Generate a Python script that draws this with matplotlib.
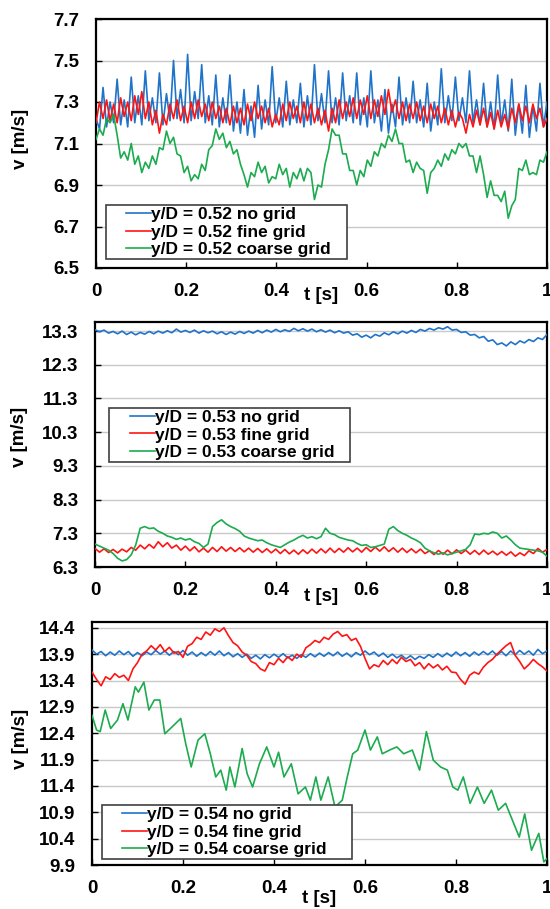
import numpy as np
import matplotlib
matplotlib.use("Agg")
import matplotlib.pyplot as plt
from matplotlib.lines import Line2D
from matplotlib.legend_handler import HandlerLine2D

plt.rcParams['font.family'] = ['Liberation Sans', 'DejaVu Sans']
plt.rcParams['font.weight'] = 'bold'
plt.rcParams['font.size'] = 13

# ---------------- data ----------------
x_ticks = [0, 0.2, 0.4, 0.6, 0.8, 1]
x_tick_labels = ["0", "0.2", "0.4", "0.6", "0.8", "1"]

# Panel 1 (y/D = 0.52)
p1_yticks = [6.5, 6.7, 6.9, 7.1, 7.3, 7.5, 7.7]
p1_labels = ["y/D = 0.52 no grid", "y/D = 0.52 fine grid", "y/D = 0.52 coarse grid"]
v1_nogrid = [7.22, 7.17,
    7.37, 7.18, 7.30, 7.20,  7.41, 7.19, 7.31, 7.18,  7.42, 7.20, 7.33, 7.19,
    7.45, 7.21, 7.32, 7.20,  7.44, 7.19, 7.34, 7.21,  7.50, 7.22, 7.36, 7.20,
    7.53, 7.21, 7.35, 7.22,  7.48, 7.20, 7.33, 7.19,  7.43, 7.18, 7.32, 7.20,
    7.43, 7.16, 7.30, 7.15,  7.36, 7.14, 7.28, 7.13,  7.38, 7.17, 7.31, 7.19,
    7.47, 7.20, 7.32, 7.18,  7.40, 7.19, 7.31, 7.20,  7.39, 7.18, 7.33, 7.19,
    7.48, 7.21, 7.34, 7.20,  7.45, 7.20, 7.32, 7.19,  7.44, 7.21, 7.33, 7.20,
    7.44, 7.19, 7.32, 7.18,  7.45, 7.20, 7.31, 7.16,  7.36, 7.15, 7.29, 7.18,
    7.42, 7.19, 7.32, 7.20,  7.40, 7.20, 7.31, 7.18,  7.39, 7.16, 7.30, 7.19,
    7.46, 7.20, 7.33, 7.21,  7.42, 7.21, 7.32, 7.20,  7.45, 7.20, 7.31, 7.19,
    7.39, 7.18, 7.30, 7.17,  7.43, 7.19, 7.31, 7.16,  7.41, 7.14, 7.29, 7.15,
    7.38, 7.13, 7.28, 7.16,  7.39, 7.18, 7.30]
v1_fine = [7.20, 7.30, 7.22, 7.31, 7.21, 7.29, 7.20, 7.32,
    7.23, 7.30, 7.21, 7.33, 7.24, 7.35, 7.22, 7.30,
    7.19, 7.26, 7.15, 7.24, 7.19, 7.29, 7.22, 7.31,
    7.21, 7.28, 7.20, 7.30, 7.22, 7.31, 7.23, 7.29,
    7.21, 7.30, 7.22, 7.28, 7.20, 7.27, 7.19, 7.28,
    7.20, 7.27, 7.19, 7.29, 7.21, 7.30, 7.22, 7.28,
    7.20, 7.27, 7.18, 7.24, 7.19, 7.29, 7.21, 7.30,
    7.22, 7.28, 7.20, 7.30, 7.21, 7.29, 7.20, 7.27,
    7.19, 7.26, 7.16, 7.27, 7.20, 7.31, 7.22, 7.30,
    7.23, 7.32, 7.22, 7.31, 7.24, 7.33, 7.22, 7.31,
    7.23, 7.33, 7.24, 7.36, 7.25, 7.31, 7.22, 7.30,
    7.21, 7.29, 7.22, 7.30, 7.21, 7.28, 7.20, 7.29,
    7.22, 7.28, 7.20, 7.27, 7.19, 7.26, 7.18, 7.25,
    7.22, 7.15, 7.24, 7.18, 7.26, 7.19, 7.27, 7.18,
    7.25, 7.17, 7.26, 7.18, 7.24, 7.17, 7.27, 7.20,
    7.29, 7.21, 7.28, 7.20, 7.29, 7.22, 7.27, 7.18,
    7.22]
v1_coarse = [7.12, 7.17, 7.14, 7.22, 7.20, 7.24, 7.14, 7.03,
    7.06, 7.02, 7.10, 7.00, 7.04, 6.96, 7.01, 6.98,
    7.04, 7.00, 7.08, 7.07, 7.16, 7.10, 7.13, 7.05,
    7.04, 6.96, 6.99, 6.92, 6.95, 6.93, 7.00, 6.97,
    7.07, 7.09, 7.17, 7.12, 7.15, 7.08, 7.11, 7.05,
    7.07, 7.00, 6.95, 6.89, 6.96, 6.94, 7.01, 6.96,
    6.99, 6.91, 6.94, 6.93, 7.00, 6.95, 6.98, 6.89,
    6.96, 6.93, 6.98, 6.92, 6.98, 6.96, 6.83, 6.90,
    6.89, 7.00, 7.07, 7.17, 7.14, 7.14, 7.05, 7.05,
    6.97, 6.97, 6.90, 6.97, 6.94, 7.02, 6.99, 7.06,
    7.04, 7.10, 7.08, 7.14, 7.11, 7.17, 7.10, 7.10,
    7.01, 7.02, 6.96, 7.01, 6.98, 6.97, 6.86, 6.96,
    6.98, 7.02, 6.99, 7.05, 7.02, 7.07, 7.05, 7.10,
    7.08, 7.10, 7.04, 7.04, 6.96, 7.04, 6.95, 6.84,
    6.92, 6.85, 6.85, 6.82, 6.87, 6.74, 6.80, 6.83,
    6.98, 6.97, 7.02, 6.95, 6.96, 6.95, 7.02, 7.01,
    7.06]

# Panel 2 (y/D = 0.53)
p2_yticks = [6.3, 7.3, 8.3, 9.3, 10.3, 11.3, 12.3, 13.3]
p2_labels = ["y/D = 0.53 no grid", "y/D = 0.53 fine grid", "y/D = 0.53 coarse grid"]
v2_nogrid = [13.34, 13.28, 13.33, 13.24, 13.29, 13.22, 13.30, 13.20, 13.27, 13.19,
    13.26, 13.21, 13.29, 13.22, 13.30, 13.24, 13.31, 13.25, 13.36, 13.27,
    13.32, 13.26, 13.33, 13.24, 13.31, 13.25, 13.30, 13.22, 13.28, 13.20,
    13.27, 13.21, 13.29, 13.23, 13.30, 13.24, 13.32, 13.25, 13.33, 13.27,
    13.35, 13.28, 13.34, 13.29, 13.38, 13.31, 13.37, 13.30, 13.36, 13.28,
    13.34, 13.27, 13.33, 13.25, 13.31, 13.24, 13.28, 13.18, 13.22, 13.12,
    13.18, 13.10, 13.20, 13.15, 13.25, 13.19, 13.28, 13.22, 13.30, 13.24,
    13.32, 13.26, 13.35, 13.30, 13.38, 13.33, 13.40, 13.36, 13.43, 13.33,
    13.35, 13.26, 13.28, 13.18, 13.20, 13.10, 13.14, 13.00, 13.04, 12.90,
    12.95, 12.86, 12.98, 12.90, 13.01, 12.95, 13.05, 12.99, 13.10, 13.05,
    13.20]
v2_fine = [6.85, 6.74, 6.84, 6.73, 6.82, 6.72, 6.83, 6.75, 6.88, 6.80,
    6.95, 6.84, 6.97, 6.86, 7.05, 6.90, 7.02, 6.86, 6.95, 6.80,
    6.92, 6.78, 6.90, 6.75, 6.86, 6.74, 6.88, 6.76, 6.90, 6.77,
    6.88, 6.76, 6.87, 6.75, 6.86, 6.74, 6.85, 6.73, 6.84, 6.72,
    6.83, 6.70, 6.82, 6.69, 6.80, 6.68, 6.81, 6.70, 6.83, 6.71,
    6.84, 6.72, 6.86, 6.73, 6.85, 6.74, 6.87, 6.75, 6.86, 6.74,
    6.88, 6.76, 6.89, 6.77, 6.90, 6.76, 6.87, 6.74, 6.86, 6.73,
    6.84, 6.72, 6.83, 6.70, 6.78, 6.67, 6.79, 6.68, 6.80, 6.69,
    6.81, 6.70, 6.80, 6.68, 6.79, 6.67, 6.80, 6.68, 6.77, 6.66,
    6.76, 6.65, 6.75, 6.62, 6.72, 6.64, 6.78, 6.70, 6.85, 6.74,
    6.82]
v2_coarse = [6.98, 6.92, 6.86, 6.80, 6.70, 6.56, 6.48, 6.52, 6.66, 6.95,
    7.45, 7.50, 7.44, 7.46, 7.36, 7.30, 7.22, 7.18, 7.12, 7.16,
    7.10, 7.14, 7.05, 7.00, 6.88, 6.98, 7.50, 7.62, 7.70, 7.58,
    7.50, 7.44, 7.36, 7.22, 7.16, 7.12, 7.08, 7.10, 7.02, 6.96,
    6.92, 6.88, 6.96, 7.04, 7.10, 7.18, 7.24, 7.16, 7.20, 7.14,
    7.20, 7.45, 7.30, 7.26, 7.18, 7.14, 7.10, 7.08, 7.00, 6.94,
    6.96, 6.88, 6.90, 6.94, 6.98, 7.42, 7.50, 7.38, 7.30, 7.24,
    7.16, 7.10, 7.02, 6.86, 6.78, 6.72, 6.68, 6.72, 6.66, 6.70,
    6.74, 6.78, 6.82, 6.96, 7.28, 7.26, 7.30, 7.28, 7.34, 7.30,
    7.16, 7.22, 7.10, 6.96, 6.86, 6.84, 6.82, 6.80, 6.78, 6.74,
    6.62]

# Panel 3 (y/D = 0.54)
p3_yticks = [9.9, 10.4, 10.9, 11.4, 11.9, 12.4, 12.9, 13.4, 13.9, 14.4]
p3_labels = ["y/D = 0.54 no grid", "y/D = 0.54 fine grid", "y/D = 0.54 coarse grid"]
v3_nogrid = [13.98, 13.90, 13.95, 13.87, 13.94, 13.88, 13.96, 13.89, 13.95, 13.86,
    13.93, 13.87, 13.94, 13.89, 13.97, 13.90, 13.96, 13.88, 13.95, 13.89,
    13.97, 13.88, 13.94, 13.86, 13.93, 13.87, 13.95, 13.88, 13.96, 13.87,
    13.93, 13.85, 13.91, 13.84, 13.90, 13.82, 13.88, 13.81, 13.89, 13.83,
    13.90, 13.84, 13.91, 13.83, 13.88, 13.82, 13.89, 13.84, 13.91, 13.85,
    13.92, 13.86, 13.93, 13.87, 13.94, 13.86, 13.92, 13.85, 13.93, 13.88,
    13.96, 13.89, 13.94, 13.86, 13.92, 13.84, 13.90, 13.83, 13.88, 13.81,
    13.87, 13.80, 13.86, 13.82, 13.89, 13.84, 13.91, 13.85, 13.92, 13.86,
    13.94, 13.87, 13.93, 13.86, 13.94, 13.88, 13.95, 13.89, 13.96, 13.88,
    13.95, 13.87, 13.96, 13.89, 13.97, 13.90, 13.96, 13.88, 13.99, 13.91,
    13.96]
v3_fine = [13.56, 13.42, 13.30, 13.47, 13.42, 13.53, 13.46, 13.50, 13.40, 13.62,
    13.74, 13.90, 13.96, 14.06, 13.98, 14.08, 13.95, 14.03, 13.92, 13.95,
    13.84, 14.05, 14.10, 14.22, 14.18, 14.32, 14.26, 14.38, 14.33, 14.40,
    14.25, 14.12, 14.06, 13.94, 13.88, 13.76, 13.72, 13.62, 13.58, 13.74,
    13.70, 13.82, 13.74, 13.85, 13.78, 13.90, 13.84, 14.02, 14.08, 14.16,
    14.12, 14.22, 14.18, 14.28, 14.33, 14.24, 14.27, 14.16, 14.20, 14.05,
    13.82, 13.62, 13.70, 13.66, 13.78, 13.70, 13.80, 13.72, 13.84, 13.76,
    13.80, 13.68, 13.74, 13.62, 13.72, 13.64, 13.70, 13.60, 13.67, 13.56,
    13.55, 13.42, 13.33, 13.50, 13.56, 13.52, 13.65, 13.74, 13.80, 13.90,
    13.98, 14.06, 14.12, 13.88, 13.76, 13.62, 13.70, 13.80, 13.72, 13.66,
    13.58]
t3_coarse = [0, 0.01, 0.018, 0.029, 0.041, 0.056, 0.068, 0.079, 0.095, 0.102,
    0.114, 0.125, 0.137, 0.149, 0.16, 0.176, 0.195, 0.206, 0.218, 0.233,
    0.248, 0.26, 0.272, 0.283, 0.295, 0.303, 0.314, 0.33, 0.341, 0.353,
    0.368, 0.384, 0.4, 0.41, 0.422, 0.438, 0.453, 0.469, 0.48, 0.492,
    0.503, 0.519, 0.534, 0.55, 0.561, 0.573, 0.584, 0.6, 0.612, 0.627,
    0.638, 0.654, 0.67, 0.685, 0.704, 0.72, 0.735, 0.75, 0.766, 0.781,
    0.793, 0.804, 0.816, 0.831, 0.847, 0.862, 0.878, 0.893, 0.909, 0.924,
    0.939, 0.951, 0.966, 0.982, 0.993, 1.0]
v3_coarse = [12.74, 12.46, 12.43, 12.84, 12.49, 12.65, 12.96, 12.65, 13.28, 13.18,
    13.37, 12.84, 13.03, 13.03, 12.39, 12.52, 12.68, 12.20, 11.76, 12.27,
    12.39, 12.01, 11.57, 11.70, 11.32, 11.76, 11.38, 12.11, 11.63, 11.38,
    11.82, 12.14, 11.76, 12.04, 11.57, 11.82, 11.25, 11.38, 11.13, 11.57,
    11.13, 11.57, 11.00, 11.13, 11.57, 12.01, 12.08, 12.46, 12.08, 12.33,
    12.01, 12.08, 12.14, 12.01, 12.08, 11.70, 12.43, 11.89, 11.76, 11.70,
    11.38, 11.32, 11.57, 11.07, 11.38, 11.07, 11.32, 10.94, 11.07, 10.75,
    10.43, 10.87, 10.18, 10.50, 9.96, 10.02]

# ---------------- styling ----------------
C_BLUE = '#1f74c9'
C_RED = '#ff1414'
C_GREEN = '#1cab4e'


class LeadLine(HandlerLine2D):
    """Legend line that starts a little inside its handle box."""
    def __init__(self, lead, **kw):
        super().__init__(**kw)
        self.lead = lead

    def create_artists(self, legend, orig_handle, xdescent, ydescent, width,
                       height, fontsize, trans):
        arts = super().create_artists(legend, orig_handle, xdescent, ydescent,
                                      width, height, fontsize, trans)
        ln = arts[0]
        x = np.asarray(ln.get_xdata(), float)
        y = np.asarray(ln.get_ydata(), float)
        ln.set_data([x.min() + self.lead * fontsize, x.max()], [y[0], y[0]])
        return arts


fig = plt.figure(figsize=(5.5, 9.09), dpi=100)

panels = [
    dict(rect=[96/550, 1-268/909, 451/550, 249/909], ylim=(6.5, 7.7), yticks=p1_yticks,
         series=[(np.linspace(0, 1, len(v1_nogrid)), v1_nogrid, C_BLUE),
                 (np.linspace(0, 1, len(v1_fine)), v1_fine, C_RED),
                 (np.linspace(0, 1, len(v1_coarse)), v1_coarse, C_GREEN)],
         labels=p1_labels, leg=(0.022, 0.036, 0.534), xl=-0.078, yl=(-0.168, 0.52)),
    dict(rect=[95/550, 1-567/909, 452/550, 245/909], ylim=(6.3, 13.57), yticks=p2_yticks,
         series=[(np.linspace(0, 1, len(v2_nogrid)), v2_nogrid, C_BLUE),
                 (np.linspace(0, 1, len(v2_fine)), v2_fine, C_RED),
                 (np.linspace(0, 1, len(v2_coarse)), v2_coarse, C_GREEN)],
         labels=p2_labels, leg=(0.032, 0.429, 0.532), xl=-0.086, yl=(-0.166, 0.53)),
    dict(rect=[92/550, 1-865/909, 455/550, 243/909], ylim=(9.9, 14.51), yticks=p3_yticks,
         series=[(np.linspace(0, 1, len(v3_nogrid)), v3_nogrid, C_BLUE),
                 (np.linspace(0, 1, len(v3_fine)), v3_fine, C_RED),
                 (t3_coarse, v3_coarse, C_GREEN)],
         labels=p3_labels, leg=(0.022, 0.025, 0.549), xl=-0.103, yl=(-0.158, 0.52)),
]

for p in panels:
    ax = fig.add_axes(p['rect'])
    handles = []
    for (t, v, c), lab in zip(p['series'], p['labels']):
        h, = ax.plot(t, v, color=c, lw=1.2, label=lab, zorder=3)
        handles.append(h)
    ax.set_xlim(0, 1)
    ax.set_ylim(*p['ylim'])
    ax.set_xticks(x_ticks)
    ax.set_xticklabels(x_tick_labels)
    ax.set_yticks(p['yticks'])
    ax.set_yticklabels([f"{y:.1f}" for y in p['yticks']])
    ax.grid(axis='y', color='#c8c8c8', lw=1.0, zorder=0)
    ax.set_axisbelow(True)
    for s in ax.spines.values():
        s.set_linewidth(1.6)
        s.set_color('black')
    ax.tick_params(axis='both', direction='in', length=4, width=1.0,
                   labelsize=13.5, colors='black')
    ax.tick_params(axis='y', pad=12)
    ax.tick_params(axis='x', pad=11)
    ax.set_xlabel('t [s]', fontsize=13.5, fontweight='bold', va='top')
    ax.xaxis.set_label_coords(0.5, p['xl'])
    ax.set_ylabel('v [m/s]', fontsize=13.5, fontweight='bold', va='center')
    ax.yaxis.set_label_coords(*p['yl'])
    x0, y0, w = p['leg']
    leg = ax.legend(handles=handles, loc='lower left', bbox_to_anchor=(x0, y0, w, 0.2),
                    mode='expand', borderaxespad=0, borderpad=0.12, fontsize=12.5,
                    handlelength=2.5, handletextpad=0.0, labelspacing=0.12,
                    fancybox=False, framealpha=1, edgecolor='#404040',
                    handler_map={Line2D: LeadLine(1.05)})
    leg.get_frame().set_linewidth(1.2)
    for txt in leg.get_texts():
        txt.set_fontweight('bold')
    leg.set_zorder(5)

fig.savefig('out.png', dpi=100)
